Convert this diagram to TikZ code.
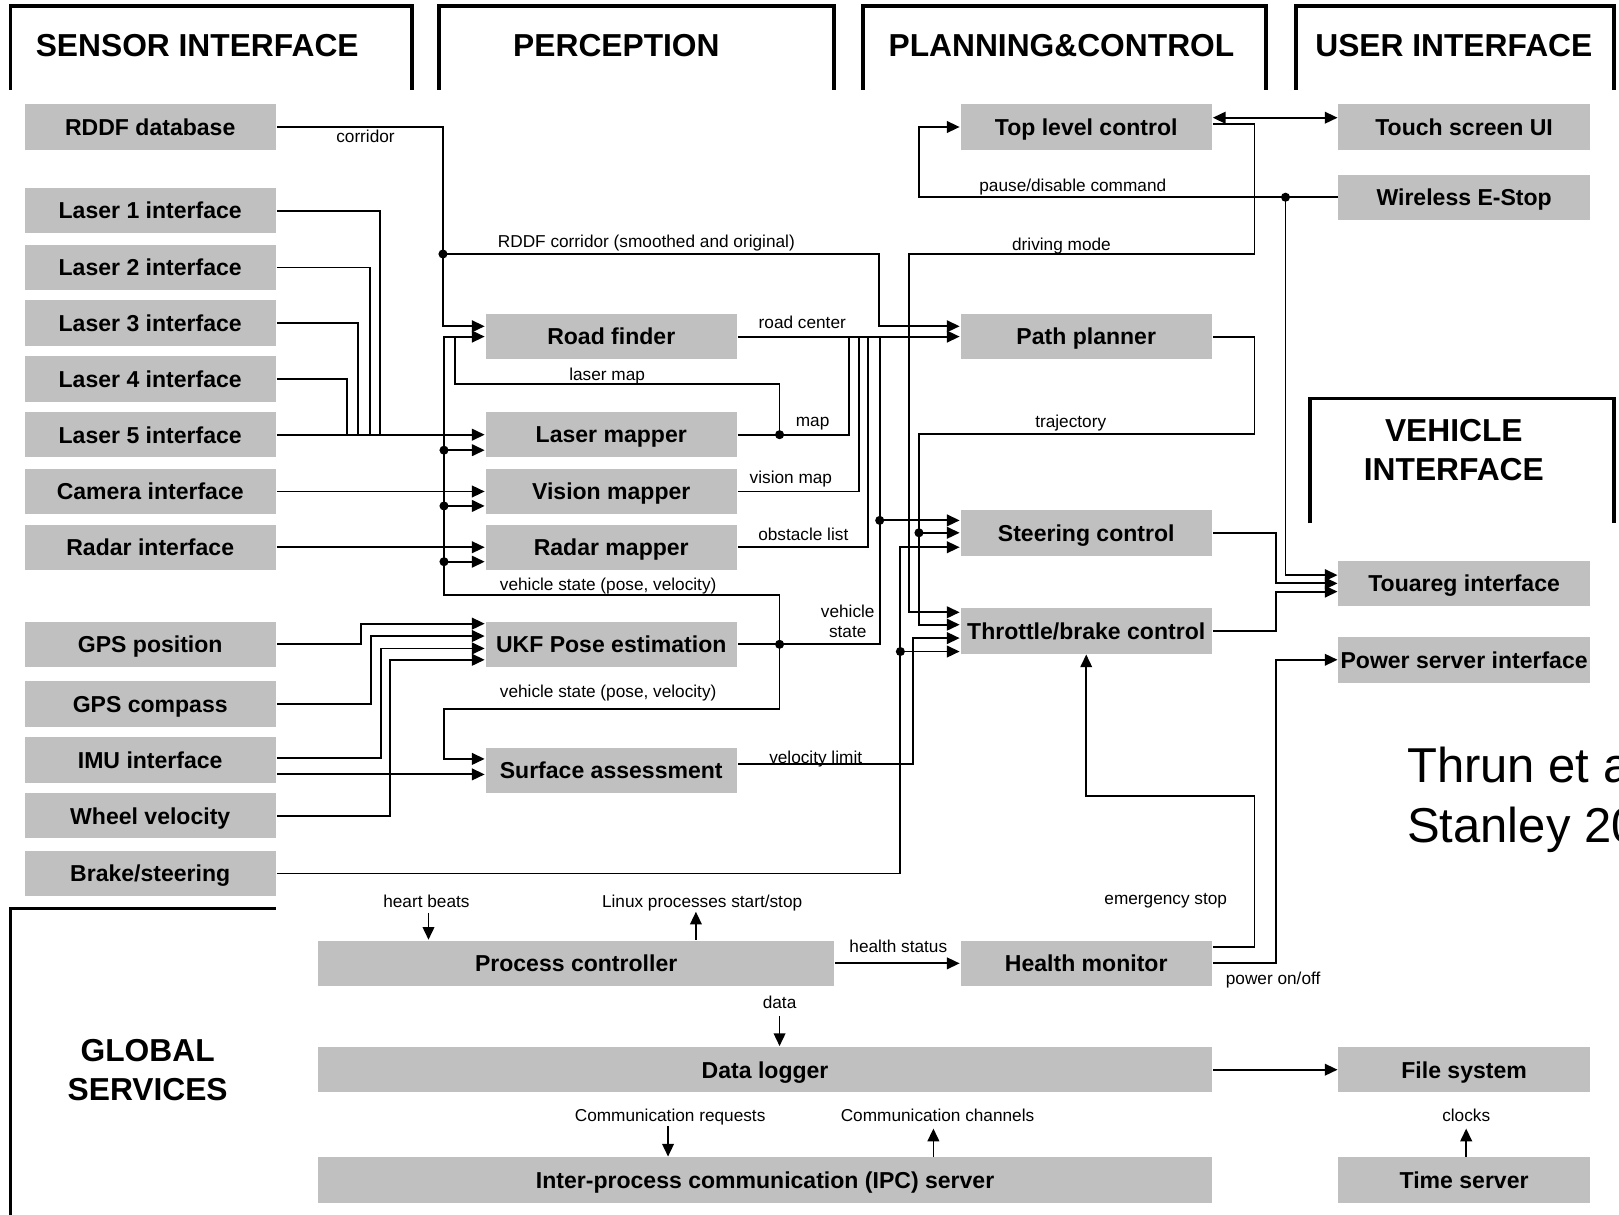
\documentclass[tikz,border=0pt]{standalone}
\usepackage{fontspec}
\setmainfont{Liberation Sans}
\usepackage{tikz}
\usetikzlibrary{arrows.meta}
\definecolor{boxgray}{RGB}{192,192,192}
\tikzset{box/.style={fill=boxgray,inner sep=0pt,minimum width=4.87cm,minimum height=0.88cm,text depth=0pt,font=\fontsize{12.7}{14}\selectfont\bfseries},
	 wbox/.style={box,minimum width=10cm},
	 xbox/.style={box,minimum width=17.32cm},
	 hdr/.style={line width=2pt},
	 htxt/.style={font=\fontsize{17.5}{21.5}\selectfont\bfseries,align=center,inner sep=0pt},
	 lbl/.style={font=\fontsize{9.5}{11}\selectfont,inner sep=0pt,align=center,text depth=0pt},
	 jdot/.style={circle,fill=black,inner sep=0pt,minimum size=5pt},
	 cite/.style={font=\fontsize{27}{32}\selectfont,anchor=base west,inner sep=0pt},
	 >={Triangle[length=7pt,width=6.4pt]}
	 }

\begin{document}
\begin{tikzpicture}[x=0.02cm,y=-0.02cm,line width=1pt]
      \useasboundingbox (0,0) rectangle (1568,1176);
      \fill[white] (0,0) rectangle (1568,1176);

      \draw[hdr] (10,87) |- (399,6) -- (399,87);
      \draw[hdr] (425,87) |- (808,6) -- (808,87);
      \draw[hdr] (836,87) |- (1226,6) -- (1226,87);
      \draw[hdr] (1255,87) |- (1563,6) -- (1563,87);
      \draw[hdr] (1269,507) |- (1563,386) -- (1563,507);
      \draw[hdr] (267,880) -| (10,1180);
      \node[htxt] (hsens) at (191,44) {SENSOR INTERFACE};
      \node[htxt] (hperc) at (597,44) {PERCEPTION};
      \node[htxt] (hplan) at (1028,44) {PLANNING\&CONTROL};
      \node[htxt] (huser) at (1408,44) {USER INTERFACE};
      \node[htxt] (hveh) at (1408,436) {VEHICLE\\INTERFACE};
      \node[htxt] (hglob) at (143,1036) {GLOBAL\\SERVICES};

      \node[box] (rddf) at (145.5,123) {RDDF database};
      \node[box] (las1) at (145.5,204) {Laser 1 interface};
      \node[box] (las2) at (145.5,259) {Laser 2 interface};
      \node[box] (las3) at (145.5,313) {Laser 3 interface};
      \node[box] (las4) at (145.5,367) {Laser 4 interface};
      \node[box] (las5) at (145.5,421) {Laser 5 interface};
      \node[box] (cam) at (145.5,476) {Camera interface};
      \node[box] (radar) at (145.5,530) {Radar interface};
      \node[box] (gpspos) at (145.5,624) {GPS position};
      \node[box] (gpscomp) at (145.5,682) {GPS compass};
      \node[box] (imu) at (145.5,736) {IMU interface};
      \node[box] (wheel) at (145.5,790) {Wheel velocity};
      \node[box] (brake) at (145.5,846) {Brake/steering};

      \node[box] (roadf) at (592,326) {Road finder};
      \node[box] (lasmap) at (592,421) {Laser mapper};
      \node[box] (vismap) at (592,476) {Vision mapper};
      \node[box] (radmap) at (592,530) {Radar mapper};
      \node[box] (ukf) at (592,624) {UKF Pose estimation};
      \node[box] (surf) at (592,746) {Surface assessment};

      \node[box] (toplev) at (1052,123) {Top level control};
      \node[box] (pathp) at (1052,326) {Path planner};
      \node[box] (steer) at (1052,516) {Steering control};
      \node[box] (throttle) at (1052,611) {Throttle/brake control};
      \node[box] (health) at (1052,933) {Health monitor};

      \node[box] (touch) at (1418,123) {Touch screen UI};
      \node[box] (estop) at (1418,191) {Wireless E-Stop};
      \node[box] (touareg) at (1418,565) {Touareg interface};
      \node[box] (power) at (1418,639) {Power server interface};
      \node[box] (filesys) at (1418,1036) {File system};
      \node[box] (timesrv) at (1418,1143) {Time server};

      \node[wbox] (procctl) at (558,933) {Process controller};
      \node[xbox] (datalog) at (741,1036) {Data logger};
      \node[xbox] (ipc) at (741,1143) {Inter-process communication (IPC) server};

      \node[jdot] (j1) at (429,246) {};
      \node[jdot] (j2) at (755,421) {};
      \node[jdot] (j3) at (430,436) {};
      \node[jdot] (j4) at (430,490) {};
      \node[jdot] (j5) at (430,544) {};
      \node[jdot] (j6) at (755,624) {};
      \node[jdot] (j7) at (852,504) {};
      \node[jdot] (j8) at (890,516) {};
      \node[jdot] (j9) at (872,631) {};
      \node[jdot] (j10) at (1245,191) {};

      \draw[->] (rddf.east) -| (429,316) -- (roadf.west |- 0,316);
      \draw[->] (j1.center) -| (851,316) -- (pathp.west |- 0,316);
      \draw[->] (roadf.east) -- (pathp.west);
      \draw (lasmap.east) -| (822,326);
      \draw (j2.center) |- (441,372) -- (441,326);
      \draw (vismap.east) -| (832,326);
      \draw (radmap.east) -| (841,326);
      \draw (ukf.east) -| (852,326);
      \draw[->] (j7.center) -- (steer.west |- j7);
      \draw[->] (j6.center) |- (430,576) -- (430,326) -- (roadf.west);
      \draw[->] (j3.center) -- (lasmap.west |- j3);
      \draw[->] (j4.center) -- (vismap.west |- j4);
      \draw[->] (j5.center) -- (radmap.west |- j5);
      \draw[->] (j6.center) |- (430,687) |- (surf.west |- 0,735);

      \draw (las1.east) -| (368,421);
      \draw (las2.east) -| (358,421);
      \draw (las3.east) -| (347,421);
      \draw (las4.east) -| (336,421);
      \draw[->] (las5.east) -- (lasmap.west);
      \draw[->] (cam.east) -- (vismap.west);
      \draw[->] (radar.east) -- (radmap.west);
      \draw[->] (gpspos.east) -| (350,604) -- (ukf.west |- 0,604);
      \draw[->] (gpscomp.east) -| (359,616) -- (ukf.west |- 0,616);
      \draw[->] (imu.east |- 0,734) -| (369,628) -- (ukf.west |- 0,628);
      \draw[->] (wheel.east) -| (378,639) -- (ukf.west |- 0,639);
      \draw[->] (imu.east |- 0,750) -- (surf.west |- 0,750);

      \draw[->] (surf.east |- 0,740) -| (884,618) -- (throttle.west |- 0,618);
      \draw[->] (brake.east) -| (872,530) -- (steer.west |- 0,530);
      \draw[->] (j9.center) -- (throttle.west |- j9);
      \draw[->] (pathp.east) -| (1215,420) -| (890,605) -- (throttle.west |- 0,605);
      \draw[->] (j8.center) -- (steer.west);
      \draw[->] (toplev.east |- 0,120) -| (1215,246) -| (880,593) -- (throttle.west |- 0,593);
      \draw[<->] (toplev.east |- 0,114) -- (touch.west |- 0,114);
      \draw[->] (estop.west) -| (890,123) -- (toplev.west);
      \draw[->] (j10.center) |- (touareg.west |- 0,557);
      \draw[->] (steer.east) -| (1236,565) -- (touareg.west);
      \draw[->] (throttle.east) -| (1236,573) -- (touareg.west |- 0,573);
      \draw[->] (health.east |- 0,917) -| (1215,771) -| (throttle.south);
      \draw[->] (health.east) -| (1236,639) -- (power.west);
      \draw[->] (procctl.east) -- (health.west);
      \draw[->] (datalog.east) -- (filesys.west);

      \node[lbl] (lcor) at (354,132) {corridor};
      \node[lbl] (lrddf) at (626,234) {RDDF corridor (smoothed and original)};
      \node[lbl] (lroad) at (777,312) {road center};
      \node[lbl] (llmap) at (588,362) {laser map};
      \node[lbl] (lmap) at (787,409) {map};
      \node[lbl] (lvis) at (766,462) {vision map};
      \node[lbl] (lobs) at (778,517) {obstacle list};
      \node[lbl] (lvs1) at (589,566) {vehicle state (pose, velocity)};
      \node[lbl] (lvs2) at (821,602) {vehicle\\state};
      \node[lbl] (lvs3) at (589,669) {vehicle state (pose, velocity)};
      \node[lbl] (lvel) at (790,733) {velocity limit};
      \node[lbl] (lpause) at (1039,179) {pause/disable command};
      \node[lbl] (ldrive) at (1028,237) {driving mode};
      \node[lbl] (ltraj) at (1037,408) {trajectory};
      \node[lbl] (lemerg) at (1129,871) {emergency stop};
      \node[lbl] (lpow) at (1233,947) {power on/off};
      \node[lbl] (lhs) at (870,916) {health status};
      \node[lbl] (lhb) at (413,873) {heart beats};
      \node[lbl] (llin) at (680,873) {Linux processes start/stop};
      \node[lbl] (ldata) at (755,971) {data};
      \node[lbl] (lcreq) at (649,1080) {Communication requests};
      \node[lbl] (lcch) at (908,1080) {Communication channels};
      \node[lbl] (lclk) at (1420,1080) {clocks};

      \draw[->] (415,884) -- (procctl.north -| 415,0);
      \draw[->] (procctl.north -| 674,0) -- (674,883);
      \draw[->] (755,984) -- (datalog.north -| 755,0);
      \draw[->] (647,1091) -- (ipc.north -| 647,0);
      \draw[->] (ipc.north -| 904,0) -- (904,1093);
      \draw[->] (timesrv.north -| 1420,0) -- (1420,1093);

      \node[cite] (cite1) at (1362,758) {Thrun et a};
      \node[cite] (cite2) at (1362,816) {Stanley 20};
  \end{tikzpicture}
\end{document}
